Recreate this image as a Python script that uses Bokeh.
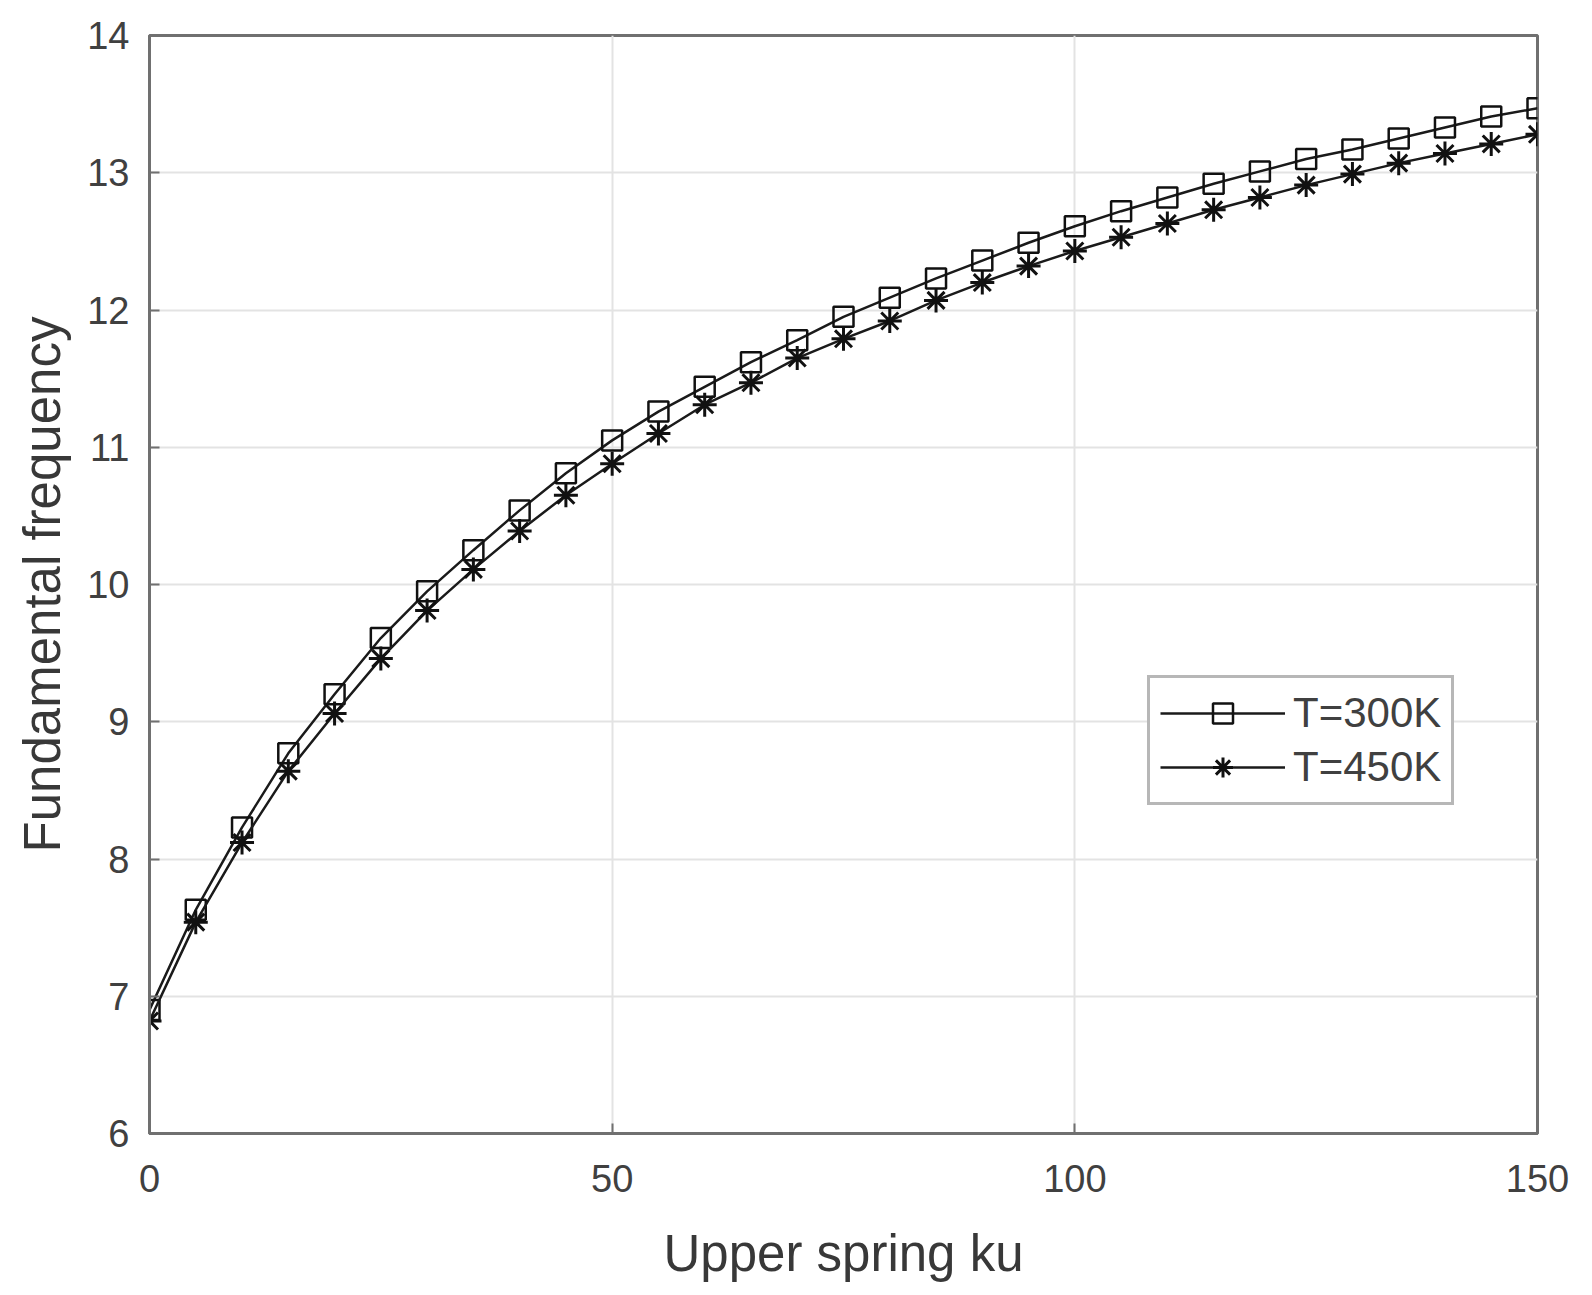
from bokeh.plotting import figure
from bokeh.models import FixedTicker, Range1d, Legend, LegendItem
from bokeh.embed import file_html
from bokeh.resources import INLINE

ku = list(range(0, 151, 5))
t300 = [6.90, 7.63, 8.23, 8.77, 9.20, 9.61, 9.95, 10.25, 10.54, 10.81, 11.05,
        11.26, 11.44, 11.62, 11.78, 11.95, 12.09, 12.23, 12.36, 12.49, 12.61,
        12.72, 12.82, 12.92, 13.01, 13.10, 13.17, 13.25, 13.33, 13.41, 13.47]
t450 = [6.82, 7.54, 8.12, 8.64, 9.06, 9.46, 9.81, 10.11, 10.39, 10.65, 10.88,
        11.10, 11.31, 11.47, 11.65, 11.79, 11.92, 12.07, 12.20, 12.32, 12.43,
        12.53, 12.63, 12.73, 12.82, 12.91, 12.99, 13.07, 13.14, 13.21, 13.28]
x_ticks = [0, 50, 100, 150]
y_ticks = [6, 7, 8, 9, 10, 11, 12, 13, 14]
labels = ["T=300K", "T=450K"]
x_label = "Upper spring ku"
y_label = "Fundamental frequency"

FONT = "Liberation Sans"
AX = "#707070"
TXT = "#404040"

p = figure(frame_width=1388, frame_height=1098, output_backend="svg",
           toolbar_location=None, x_range=Range1d(0, 150), y_range=Range1d(6, 14),
           min_border_left=149, min_border_top=35, min_border_right=40,
           min_border_bottom=145)
p.background_fill_color = "white"
p.border_fill_color = "white"
p.outline_line_color = AX
p.outline_line_width = 3

for ax in (p.xaxis[0], p.yaxis[0]):
    ax.axis_line_color = AX
    ax.axis_line_width = 3
    ax.major_tick_in = 10
    ax.major_tick_out = 0
    ax.major_tick_line_color = AX
    ax.major_tick_line_width = 2
    ax.minor_tick_line_color = None
    ax.major_label_text_font = FONT
    ax.major_label_text_font_size = "38px"
    ax.major_label_text_color = TXT
    ax.axis_label_text_font = FONT
    ax.axis_label_text_font_size = "51px"
    ax.axis_label_text_font_style = "normal"
    ax.axis_label_text_color = "#383838"

p.xaxis.ticker = FixedTicker(ticks=x_ticks)
p.yaxis.ticker = FixedTicker(ticks=y_ticks)
p.xaxis.axis_label = x_label
p.yaxis.axis_label = y_label
p.xaxis.major_label_standoff = 31
p.yaxis.major_label_standoff = 20
p.xaxis.axis_label_standoff = 30
p.yaxis.axis_label_standoff = 13

p.xgrid.ticker = FixedTicker(ticks=x_ticks)
p.ygrid.ticker = FixedTicker(ticks=y_ticks)
p.grid.grid_line_color = "#e3e3e3"
p.grid.grid_line_width = 2

l1 = p.line(ku, t300, line_color="#1a1a1a", line_width=2.5)
s1 = p.scatter(ku, t300, marker="square", size=20, fill_color=None,
               line_color="#111111", line_width=2.5)
l2 = p.line(ku, t450, line_color="#1a1a1a", line_width=2.5)
s2 = p.scatter(ku, t450, marker="asterisk", size=24, line_color="#111111",
               line_width=3)

legend = Legend(items=[LegendItem(label=labels[0], renderers=[l1, s1]),
                       LegendItem(label=labels[1], renderers=[l2, s2])],
                location=(998, 328))
legend.label_text_font = FONT
legend.label_text_font_size = "42px"
legend.label_text_color = TXT
legend.border_line_color = AX
legend.border_line_width = 3
legend.background_fill_color = "white"
legend.background_fill_alpha = 1.0
legend.glyph_width = 125
legend.glyph_height = 50
legend.label_height = 50
legend.label_standoff = 8
legend.padding = 10
legend.spacing = 4
legend.margin = 0
p.add_layout(legend, "center")

open("out.html", "w").write(file_html(p, INLINE))
